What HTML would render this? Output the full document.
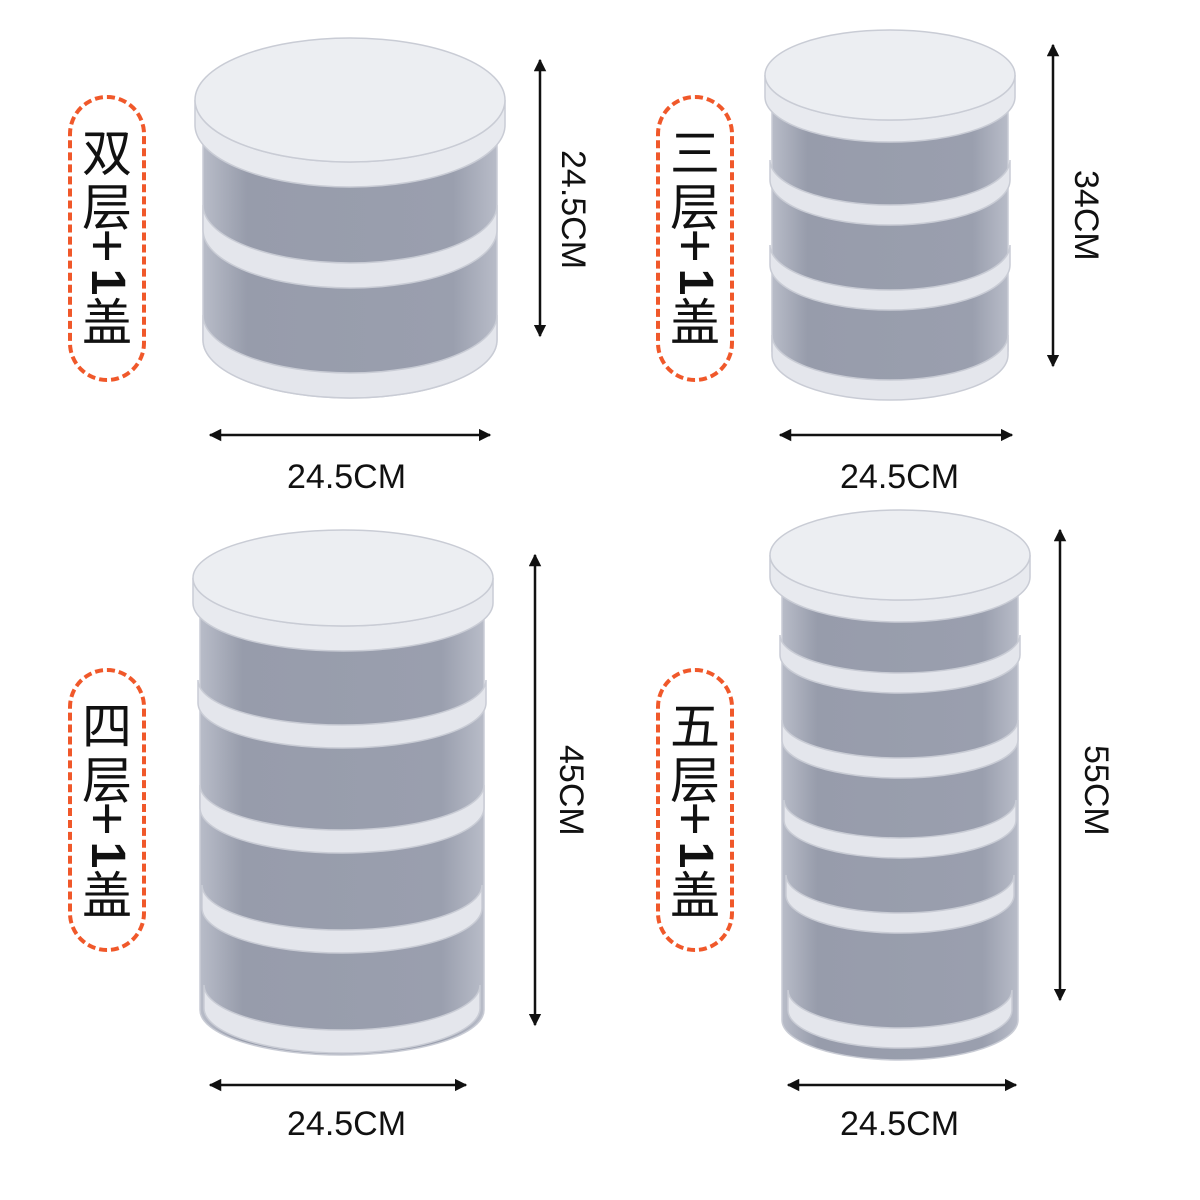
<!DOCTYPE html>
<html><head><meta charset="utf-8"><style>
html,body{margin:0;padding:0;background:#fff;}
#c{position:relative;width:1200px;height:1200px;overflow:hidden;font-family:"Liberation Sans","Noto Sans CJK SC",sans-serif;}
.pill{position:absolute;border:4px dashed #f0582a;border-radius:40px;box-sizing:border-box;}
.ch{position:absolute;width:80px;height:50px;text-align:center;font-size:50px;line-height:50px;color:#111;font-family:"Noto Sans CJK SC",sans-serif;}
.p{font-family:"Liberation Sans",sans-serif;font-size:58px;}
.o{font-family:"Liberation Sans",sans-serif;font-weight:bold;font-size:48px;transform:rotate(90deg);}
.dim{position:absolute;font-size:34px;color:#111;white-space:nowrap;}
.rot{transform:rotate(90deg);transform-origin:0 0;}
svg{position:absolute;left:0;top:0;}
</style></head><body><div id="c">
<svg width="1200" height="1200" viewBox="0 0 1200 1200">
<defs>
<marker id="a" viewBox="0 0 10 10" refX="9" refY="5" markerWidth="5" markerHeight="5" orient="auto-start-reverse"><path d="M0,0 L10,5 L0,10 Z" fill="#111"/></marker>
<linearGradient id="g" x1="0" x2="1"><stop offset="0" stop-color="#b8bcc8"/><stop offset="0.15" stop-color="#979cab"/><stop offset="0.85" stop-color="#9a9fae"/><stop offset="1" stop-color="#b8bcc8"/></linearGradient>
</defs>
<g stroke="#c9ccd5" stroke-width="1.5">
<path d="M203,120 L203,340 A147,58 0 0 0 497,340 L497,120 Z" fill="url(#g)"/>
<path d="M203,205 A147,58 0 0 0 497,205 L497,230 A147,58 0 0 1 203,230 Z" fill="#e4e6ec"/>
<path d="M203,315 A147,58 0 0 0 497,315 L497,340 A147,58 0 0 1 203,340 Z" fill="#e4e6ec"/>
<path d="M195,100 A155,62 0 0 0 505,100 L505,125 A155,62 0 0 1 195,125 Z" fill="#e8eaef"/>
<ellipse cx="350" cy="100" rx="155" ry="62" fill="#eceef2"/>
<path d="M772,95 L772,350 A118,45 0 0 0 1008,350 L1008,95 Z" fill="url(#g)"/>
<path d="M770,160 A120,45 0 0 0 1010,160 L1010,180 A120,45 0 0 1 770,180 Z" fill="#e4e6ec"/>
<path d="M770,245 A120,45 0 0 0 1010,245 L1010,265 A120,45 0 0 1 770,265 Z" fill="#e4e6ec"/>
<path d="M772,335 A118,45 0 0 0 1008,335 L1008,355 A118,45 0 0 1 772,355 Z" fill="#e4e6ec"/>
<path d="M765,75 A125,45 0 0 0 1015,75 L1015,97 A125,45 0 0 1 765,97 Z" fill="#e8eaef"/>
<ellipse cx="890" cy="75" rx="125" ry="45" fill="#eceef2"/>
<path d="M200,600 L200,1010 A142,45 0 0 0 484,1010 L484,600 Z" fill="url(#g)"/>
<path d="M198,680 A144,45 0 0 0 486,680 L486,703 A144,45 0 0 1 198,703 Z" fill="#e4e6ec"/>
<path d="M200,785 A142,45 0 0 0 484,785 L484,808 A142,45 0 0 1 200,808 Z" fill="#e4e6ec"/>
<path d="M202,885 A140,45 0 0 0 482,885 L482,908 A140,45 0 0 1 202,908 Z" fill="#e4e6ec"/>
<path d="M204,985 A138,45 0 0 0 480,985 L480,1008 A138,45 0 0 1 204,1008 Z" fill="#e4e6ec"/>
<path d="M193,578 A150,48 0 0 0 493,578 L493,603 A150,48 0 0 1 193,603 Z" fill="#e8eaef"/>
<ellipse cx="343" cy="578" rx="150" ry="48" fill="#eceef2"/>
<path d="M782,575 L782,1020 A118,40 0 0 0 1018,1020 L1018,575 Z" fill="url(#g)"/>
<path d="M780,635 A120,38 0 0 0 1020,635 L1020,655 A120,38 0 0 1 780,655 Z" fill="#e4e6ec"/>
<path d="M782,720 A118,38 0 0 0 1018,720 L1018,740 A118,38 0 0 1 782,740 Z" fill="#e4e6ec"/>
<path d="M784,800 A116,38 0 0 0 1016,800 L1016,820 A116,38 0 0 1 784,820 Z" fill="#e4e6ec"/>
<path d="M786,875 A114,38 0 0 0 1014,875 L1014,895 A114,38 0 0 1 786,895 Z" fill="#e4e6ec"/>
<path d="M788,990 A112,38 0 0 0 1012,990 L1012,1010 A112,38 0 0 1 788,1010 Z" fill="#e4e6ec"/>
<path d="M770,555 A130,45 0 0 0 1030,555 L1030,577 A130,45 0 0 1 770,577 Z" fill="#e8eaef"/>
<ellipse cx="900" cy="555" rx="130" ry="45" fill="#eceef2"/>
</g>
<g stroke="#111" stroke-width="2.5" marker-start="url(#a)" marker-end="url(#a)">
<line x1="540" y1="60" x2="540" y2="336"/>
<line x1="210" y1="435" x2="490" y2="435"/>
<line x1="1053" y1="45" x2="1053" y2="366"/>
<line x1="780" y1="435" x2="1012" y2="435"/>
<line x1="535" y1="555" x2="535" y2="1025"/>
<line x1="210" y1="1085" x2="466" y2="1085"/>
<line x1="1060" y1="530" x2="1060" y2="1000"/>
<line x1="788" y1="1085" x2="1016" y2="1085"/>
</g>
</svg>
<div class="pill" style="left:68px;top:95px;width:78px;height:287px"></div>
<div class="ch" style="left:67px;top:125px">双</div><div class="ch" style="left:67px;top:179px">层</div>
<div class="ch p" style="left:67px;top:221px">+</div><div class="ch o" style="left:67px;top:257px">1</div>
<div class="ch" style="left:67px;top:294px">盖</div>
<div class="pill" style="left:656px;top:95px;width:78px;height:287px"></div>
<div class="ch" style="left:655px;top:125px">三</div><div class="ch" style="left:655px;top:179px">层</div>
<div class="ch p" style="left:655px;top:221px">+</div><div class="ch o" style="left:655px;top:257px">1</div>
<div class="ch" style="left:655px;top:294px">盖</div>
<div class="pill" style="left:68px;top:668px;width:78px;height:284px"></div>
<div class="ch" style="left:67px;top:698px">四</div><div class="ch" style="left:67px;top:752px">层</div>
<div class="ch p" style="left:67px;top:794px">+</div><div class="ch o" style="left:67px;top:830px">1</div>
<div class="ch" style="left:67px;top:867px">盖</div>
<div class="pill" style="left:656px;top:668px;width:78px;height:284px"></div>
<div class="ch" style="left:655px;top:698px">五</div><div class="ch" style="left:655px;top:752px">层</div>
<div class="ch p" style="left:655px;top:794px">+</div><div class="ch o" style="left:655px;top:830px">1</div>
<div class="ch" style="left:655px;top:867px">盖</div>
<div class="dim rot" style="left:592px;top:150px">24.5CM</div>
<div class="dim rot" style="left:1105px;top:170px">34CM</div>
<div class="dim rot" style="left:590px;top:745px">45CM</div>
<div class="dim rot" style="left:1115px;top:745px">55CM</div>
<div class="dim" style="left:287px;top:458px">24.5CM</div>
<div class="dim" style="left:840px;top:458px">24.5CM</div>
<div class="dim" style="left:287px;top:1105px">24.5CM</div>
<div class="dim" style="left:840px;top:1105px">24.5CM</div>
</div></body></html>
